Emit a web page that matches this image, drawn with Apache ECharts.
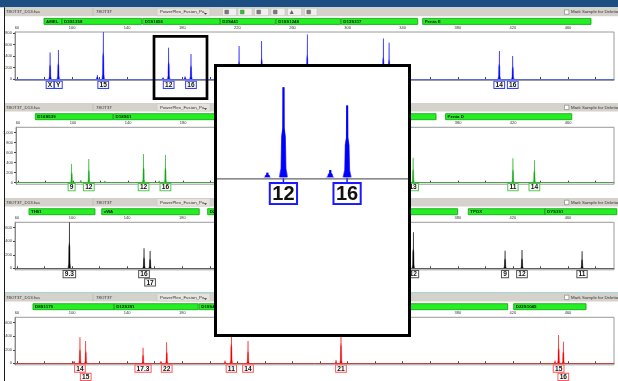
<!DOCTYPE html>
<html>
<head>
<meta charset="utf-8">
<script src="https://cdn.jsdelivr.net/npm/echarts@6/dist/echarts.min.js"></script>
<style>
html,body{margin:0;padding:0;background:#fff;}
#c{width:618px;height:381px;}
</style>
</head>
<body>
<div id="c"></div>
<script>
// Size axis (bp)
const sizeTicks = [60, 80, 100, 120, 140, 160, 180, 200, 220, 240, 260, 280, 300, 320, 340, 360, 380, 400, 420, 440, 460, 480];
const sizeLabels = [60, 100, 140, 180, 220, 260, 300, 340, 380, 420, 460];

// RFU tick labels per dye panel
const blueRfuTicks = [0, 200, 400, 600, 800];
const greenRfuTicks = [0, 200, 400, 600, 800, 1000];
const yellowRfuTicks = [0, 200, 400, 600];
const redRfuTicks = [0, 200, 400, 600];

// Blue dye peaks: size (bp), height (RFU), allele call, label row
const blueSizes = [84.0, 90.0, 122.6, 170.1, 186.3, 221.2, 237.6, 270.7, 325.9, 330.1, 410.1, 419.9, 118.3, 166.0, 182.0];
const blueRfu = [464, 504, 860, 545, 435, 574, 661, 777, 708, 631, 487, 400, 70, 28, 45];
const blueAlleles = ['X', 'Y', '15', '12', '16', '', '', '', '', '', '14', '16', '', '', ''];
const blueRows = [0, 0, 0, 0, 0, 0, 0, 0, 0, 0, 0, 0, 0, 0, 0];

// Green dye peaks
const greenSizes = [99.0, 111.5, 151.3, 167.2, 347.3, 419.9, 435.5, 105.7, 123.2, 162.6];
const greenRfu = [374, 474, 574, 554, 500, 488, 448, 53, 40, 40];
const greenAlleles = ['9', '12', '12', '16', '13', '11', '14', '', '', ''];
const greenRows = [0, 0, 0, 0, 0, 0, 0, 0, 0, 0];

// Yellow dye peaks (shown in black)
const yellowSizes = [98.0, 152.2, 156.6, 347.7, 414.3, 426.6, 470.2];
const yellowRfu = [700, 296, 256, 533, 261, 271, 252];
const yellowAlleles = ['9.3', '16', '17', '12', '9', '12', '11'];
const yellowRows = [0, 0, 1, 0, 0, 0, 0];

// Red dye peaks
const redSizes = [105.7, 109.9, 151.5, 168.7, 215.6, 227.7, 295.2, 453.2, 456.6, 101.4, 164.5, 211.0, 291.6, 450.6];
const redRfu = [385, 330, 231, 311, 520, 330, 540, 419, 320, 35, 35, 40, 50, 40];
const redAlleles = ['14', '15', '17.3', '22', '11', '14', '21', '15', '16', '', '', '', '', ''];
const redRows = [0, 1, 0, 0, 0, 0, 0, 0, 1, 0, 0, 0, 0, 0];

// Locus bins (bp ranges)
const blueLoci = ['AMEL', 'D3S1358', 'D1S1656', 'D2S441', 'D10S1248', 'D13S317', 'Penta E'];
const blueLociStart = [79.6, 92.7, 151.25, 207.6, 248.2, 295.4, 354.5];
const blueLociEnd = [92.45, 150.5, 207.4, 247.6, 294.8, 350.9, 476.7];

const greenLoci = ['D16S539', 'D18S51', 'D2S1338', 'CSF1PO', 'Penta D'];
const greenLociStart = [72.6, 129.5, 209.0, 290.0, 370.9];
const greenLociEnd = [129.0, 208.4, 289.4, 364.0, 462.7];

const yellowLoci = ['TH01', 'vWA', 'D21S11', 'D7S820', 'D5S818', 'TPOX', 'DYS391'];
const yellowLociStart = [68.7, 121.5, 198.4, 252.6, 318.6, 387.6, 443.3];
const yellowLociEnd = [116.6, 192.3, 252.0, 318.0, 379.9, 443.3, 495.4];

const redLoci = ['D8S1179', 'D12S391', 'D19S433', 'FGA', 'D22S1045'];
const redLociStart = [71.6, 130.6, 192.3, 250.6, 420.6];
const redLociEnd = [130.4, 191.6, 250.0, 416.2, 473.1];

// Zoomed window over the D1S1656 alleles
const zoomFrom = 153.2;
const zoomTo = 201.8;

const FONT = 'Liberation Sans, Arial, sans-serif';
const SIZE_MIN = 58.55, SIZE_MAX = 493.4;

const panels = [
  {top: 32, height: 48.5, yMin: -26, yMax: 820, ticks: blueRfuTicks,
   sizes: blueSizes, rfu: blueRfu, alleles: blueAlleles, rows: blueRows,
   loci: blueLoci, lociStart: blueLociStart, lociEnd: blueLociEnd,
   core: '#0000ff', halo: '#9494ff', base: '#5060f0', box: '#3040ff', dy: 2.7},
  {top: 127.3, height: 56.9, yMin: -30, yMax: 1108, ticks: greenRfuTicks,
   sizes: greenSizes, rfu: greenRfu, alleles: greenAlleles, rows: greenRows,
   loci: greenLoci, lociStart: greenLociStart, lociEnd: greenLociEnd,
   core: '#13a813', halo: '#98e098', base: '#3aa83a', box: '#4cc84c', dy: 1.4},
  {top: 222.3, height: 47.5, yMin: -22, yMax: 680, ticks: yellowRfuTicks,
   sizes: yellowSizes, rfu: yellowRfu, alleles: yellowAlleles, rows: yellowRows,
   loci: yellowLoci, lociStart: yellowLociStart, lociEnd: yellowLociEnd,
   core: '#000000', halo: '#909090', base: '#555555', box: '#555555', dy: 2.7},
  {top: 317.3, height: 47.5, yMin: -22, yMax: 680, ticks: redRfuTicks,
   sizes: redSizes, rfu: redRfu, alleles: redAlleles, rows: redRows,
   loci: redLoci, lociStart: redLociStart, lociEnd: redLociEnd,
   core: '#ee0000', halo: '#ffa0a0', base: '#d83030', box: '#ff5a5a', dy: 2.2}
];

// Peak glyph: narrow tip, shoulder, wider foot
function glyph(cx, yT, yB, k) {
  const H = yB - yT;
  return [
    [cx - 1.6 * k, yB], [cx - 1.0 * k, yB - 0.1 * H], [cx - 0.8 * k, yB - 0.45 * H],
    [cx - 0.4 * k, yB - 0.55 * H], [cx - 0.35 * k, yT], [cx + 0.4 * k, yT],
    [cx + 0.45 * k, yB - 0.55 * H], [cx + 0.85 * k, yB - 0.45 * H],
    [cx + 1.05 * k, yB - 0.1 * H], [cx + 1.6 * k, yB]
  ];
}

function peakRenderer(w, core, halo) {
  return function (params, api) {
    const s = api.value(0), h = api.value(1);
    const top = api.coord([s, h]);
    const base = api.coord([s, 0]);
    return {
      type: 'group',
      children: [
        {type: 'polygon', shape: {points: glyph(top[0], top[1], base[1], w)}, style: {fill: halo}},
        {type: 'polygon', shape: {points: glyph(top[0], top[1], base[1], w * 0.6)}, style: {fill: core}}
      ]
    };
  };
}

function labelRenderer(alleles, rows, dy, border) {
  return function (params, api) {
    const t = alleles[params.dataIndex];
    if (!t) return {type: 'group', children: []};
    const p = api.coord([api.value(0), 0]);
    return {
      type: 'text',
      x: p[0],
      y: p[1] + dy + rows[params.dataIndex] * 8.3,
      style: {
        text: t, font: 'bold 6.6px ' + FONT, fill: '#111',
        align: 'center', verticalAlign: 'top',
        backgroundColor: '#ffffff', borderColor: border, borderWidth: 1,
        padding: [0.8, 1.2, 0, 1.2], lineHeight: 5.4
      }
    };
  };
}

function lociRenderer(names) {
  return function (params, api) {
    const a = api.coord([api.value(0), 0])[0];
    const b = api.coord([api.value(1), 0])[0];
    const y = params.coordSys.y - 13.6;
    return {
      type: 'group',
      children: [
        {type: 'rect', shape: {x: a, y: y, width: b - a, height: 6},
         style: {fill: '#22f022', stroke: '#129a12', lineWidth: 0.8}},
        {type: 'text', x: a + 2, y: y + 3.3,
         style: {text: names[params.dataIndex], font: 'bold 4.4px ' + FONT, fill: '#111', verticalAlign: 'middle'}}
      ]
    };
  };
}

const grids = [], xAxes = [], yAxes = [], series = [];

panels.forEach(function (p, i) {
  grids.push({left: 15, right: 4, top: p.top, height: p.height, show: true,
              borderColor: '#9a9a9a', borderWidth: 1});
  xAxes.push({
    type: 'value', gridIndex: i, position: 'top', min: SIZE_MIN, max: SIZE_MAX,
    axisLine: {show: true, lineStyle: {color: '#8a8a8a', width: 1}},
    axisTick: {show: true, length: 2, customValues: sizeTicks, lineStyle: {color: '#444'}},
    axisLabel: {customValues: sizeLabels, fontSize: 4, color: '#333', margin: 2, fontFamily: FONT},
    splitLine: {show: false}
  });
  yAxes.push({
    type: 'value', gridIndex: i, min: p.yMin, max: p.yMax,
    axisLine: {show: true, lineStyle: {color: '#8a8a8a', width: 1}},
    axisTick: {show: true, length: 2, customValues: p.ticks, lineStyle: {color: '#444'}},
    axisLabel: {customValues: p.ticks, fontSize: 4, color: '#333', margin: 3, fontFamily: FONT},
    splitLine: {show: false}
  });
  series.push({
    type: 'custom', xAxisIndex: i, yAxisIndex: i, clip: true, z: 3,
    data: p.sizes.map(function (s, j) { return [s, p.rfu[j]]; }),
    renderItem: peakRenderer(1.15, p.core, p.halo),
    markLine: {silent: true, symbol: 'none', label: {show: false},
               lineStyle: {color: p.base, width: 1, type: 'solid', opacity: 0.8},
               data: [{yAxis: 0}]}
  });
  series.push({
    type: 'custom', xAxisIndex: i, yAxisIndex: i, clip: false, z: 4,
    data: p.sizes.map(function (s, j) { return [s, p.rfu[j]]; }),
    renderItem: labelRenderer(p.alleles, p.rows, p.dy, p.box)
  });
  series.push({
    type: 'custom', xAxisIndex: i, yAxisIndex: i, clip: false, z: 4,
    data: p.lociStart.map(function (s, j) { return [s, p.lociEnd[j]]; }),
    renderItem: lociRenderer(p.loci)
  });
});

// Zoomed inset of the blue panel
grids.push({left: 217, top: 67, width: 191, height: 112, show: false});
xAxes.push({type: 'value', gridIndex: 4, min: zoomFrom, max: zoomTo, show: false});
yAxes.push({type: 'value', gridIndex: 4, min: -10, max: 668, show: false});
series.push({
  type: 'custom', xAxisIndex: 4, yAxisIndex: 4, clip: true, z: 60,
  data: blueSizes.map(function (s, j) { return [s, blueRfu[j]]; }),
  renderItem: function (params, api) {
    const s = api.value(0), h = api.value(1);
    const top = api.coord([s, h]);
    const base = api.coord([s, 0]);
    return {
      type: 'group',
      children: [
        {type: 'polygon', shape: {points: glyph(top[0], top[1], base[1], 2.9)}, style: {fill: '#5a5aff'}},
        {type: 'polygon', shape: {points: glyph(top[0], top[1], base[1], 2.3)}, style: {fill: '#0000ff'}}
      ]
    };
  },
  markLine: {silent: true, symbol: 'none', label: {show: false},
             lineStyle: {color: '#1a1aff', width: 1.6, type: 'solid'},
             data: [{yAxis: 0}]}
});
series.push({
  type: 'custom', xAxisIndex: 4, yAxisIndex: 4, clip: false, z: 61,
  data: blueSizes.map(function (s, j) { return [s, blueRfu[j]]; }),
  renderItem: function (params, api) {
    const t = blueAlleles[params.dataIndex];
    const s = api.value(0);
    if (!t || s < zoomFrom || s > zoomTo) return {type: 'group', children: []};
    const p = api.coord([s, 0]);
    return {
      type: 'group',
      children: [
        {type: 'line', shape: {x1: p[0], y1: p[1] + 1, x2: p[0], y2: p[1] + 7},
         style: {stroke: '#1a1aff', lineWidth: 1.5}},
        {type: 'text', x: p[0], y: p[1] + 6.7,
         style: {text: t, font: 'bold 20px ' + FONT, fill: '#111', align: 'center', verticalAlign: 'top',
                 backgroundColor: '#ffffff', borderColor: '#1a1aff', borderWidth: 2,
                 padding: [2, 1.5, 0, 1.5], lineHeight: 17}}
      ]
    };
  }
});

// Window chrome: title band, per-panel headers, zoom frame
const gfx = [];
gfx.push({type: 'rect', shape: {x: 0, y: 0, width: 618, height: 7.3}, style: {fill: '#1d4e82'}, z: 1});

panels.forEach(function (p, i) {
  const hy = p.top - 24.3;
  gfx.push({type: 'rect', shape: {x: 5, y: hy, width: 613, height: 8.6}, style: {fill: '#d5d2cb'}, z: 1});
  gfx.push({type: 'rect', shape: {x: 157, y: hy + 0.5, width: 53, height: 7.6}, style: {fill: '#e6e3dd', stroke: '#c4c1ba', lineWidth: 0.5}, z: 1});
  gfx.push({type: 'line', shape: {x1: 93, y1: hy + 0.5, x2: 93, y2: hy + 8}, style: {stroke: '#b5b2ab', lineWidth: 0.6}, z: 1});
  gfx.push({type: 'text', x: 6, y: hy + 4.4, style: {text: '78OT3T_D13.fsa', font: '4.4px ' + FONT, fill: '#333', verticalAlign: 'middle'}, z: 1});
  gfx.push({type: 'text', x: 96, y: hy + 4.4, style: {text: '78OT3T', font: '4.4px ' + FONT, fill: '#333', verticalAlign: 'middle'}, z: 1});
  gfx.push({type: 'text', x: 160, y: hy + 4.4, style: {text: 'PowerPlex_Fusion_Pa', font: '4.4px ' + FONT, fill: '#333', verticalAlign: 'middle'}, z: 1});
  gfx.push({type: 'polygon', shape: {points: [[204, hy + 5.3], [207, hy + 5.3], [205.5, hy + 7]]}, style: {fill: '#333'}, z: 1});
  gfx.push({type: 'rect', shape: {x: 564.5, y: hy + 2.2, width: 4.4, height: 4.4}, style: {fill: '#fff', stroke: '#777', lineWidth: 0.6}, z: 1});
  gfx.push({type: 'text', x: 571, y: hy + 4.4, style: {text: 'Mark Sample for Deletion', font: '4.4px ' + FONT, fill: '#333', verticalAlign: 'middle'}, z: 1});
});

// toolbar buttons in the first header
const btnX = [222.5, 238, 254.5, 271, 287.5, 304.5];
btnX.forEach(function (x, i) {
  const hy = panels[0].top - 24.3;
  gfx.push({type: 'rect', shape: {x: x, y: hy + 0.6, width: i === 5 ? 12.5 : 14, height: 7.4}, style: {fill: '#f1f0ed', stroke: '#c0bdb6', lineWidth: 0.5}, z: 1});
  if (i === 4) {
    gfx.push({type: 'polygon', shape: {points: [[x + 2.2, hy + 6.4], [x + 6.2, hy + 6.4], [x + 4.2, hy + 2.4]]}, style: {fill: '#666'}, z: 1});
  } else {
    gfx.push({type: 'rect', shape: {x: x + 2.3, y: hy + 2.4, width: 3.8, height: 3.8}, style: {fill: i === 1 ? '#22cc22' : '#7a7a7a', stroke: '#555', lineWidth: 0.4}, z: 1});
  }
});

gfx.push({type: 'line', shape: {x1: 5, y1: 292.5, x2: 618, y2: 292.5}, style: {stroke: '#9fd7da', lineWidth: 1.2}, z: 1});
gfx.push({type: 'line', shape: {x1: 4.5, y1: 7.3, x2: 4.5, y2: 381}, style: {stroke: '#1a1a1a', lineWidth: 1}, z: 1});

// selection frame on the blue panel
gfx.push({type: 'rect', shape: {x: 154, y: 36.3, width: 53, height: 62.4}, style: {fill: 'none', stroke: '#000', lineWidth: 2.7}, z: 45});

// inset frame
gfx.push({type: 'rect', shape: {x: 215.5, y: 65.5, width: 194, height: 270}, style: {fill: '#ffffff', stroke: '#000', lineWidth: 3}, z: 50});
gfx.push({type: 'line', shape: {x1: 217, y1: 178.8, x2: 408, y2: 178.8}, style: {stroke: '#666', lineWidth: 1.2}, z: 55});

const chart = echarts.init(document.getElementById('c'), null, {renderer: 'canvas'});
chart.setOption({
  animation: false,
  backgroundColor: '#ffffff',
  grid: grids,
  xAxis: xAxes,
  yAxis: yAxes,
  series: series,
  graphic: {elements: gfx}
});
</script>
</body>
</html>
